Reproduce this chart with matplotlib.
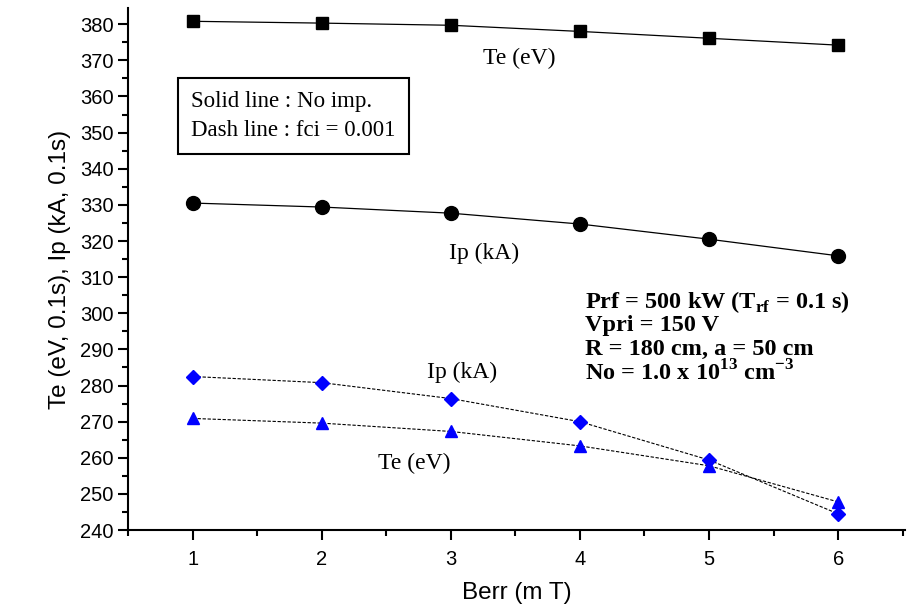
import matplotlib.pyplot as plt
from matplotlib.ticker import MultipleLocator

# Berr (mT)
berr = [1, 2, 3, 4, 5, 6]

# solid lines: no impurity
te_noimp = [380.8, 380.3, 379.7, 378.0, 376.1, 374.2]
ip_noimp = [330.5, 329.4, 327.7, 324.7, 320.5, 315.9]

# dashed lines: fci = 0.001
ip_fci = [282.5, 280.8, 276.4, 270.0, 259.4, 244.5]
te_fci = [270.9, 269.6, 267.3, 263.3, 257.8, 247.8]

sans = ['Liberation Sans', 'DejaVu Sans']
serif = ['Liberation Serif', 'DejaVu Serif']

fig = plt.figure(figsize=(9.08, 6.1), dpi=100)
ax = fig.add_axes([0.141, 0.131, 0.856, 0.856])

ax.plot(berr, te_noimp, color='black', lw=0.9, marker='s', ms=9, mfc='black', mec='black')
ax.plot(berr, ip_noimp, color='black', lw=0.9, marker='o', ms=10, mfc='black', mec='black')
ax.plot(berr, ip_fci, color='black', lw=0.8, ls=(0, (3, 1.5)), marker='D', ms=7.5,
        mfc='blue', mec='blue')
ax.plot(berr, te_fci, color='black', lw=0.8, ls=(0, (3, 1.5)), marker='^', ms=9,
        mfc='blue', mec='blue')

ax.set_xlim(0.5, 6.52)
ax.set_ylim(240, 384.5)
ax.xaxis.set_major_locator(MultipleLocator(1))
ax.xaxis.set_minor_locator(MultipleLocator(0.5))
ax.yaxis.set_major_locator(MultipleLocator(10))
ax.yaxis.set_minor_locator(MultipleLocator(5))
ax.tick_params(which='major', direction='out', length=7, width=1.5, labelsize=14.5)
ax.tick_params(which='minor', direction='out', length=4, width=1.5)
for lab in ax.get_xticklabels() + ax.get_yticklabels():
    lab.set_family(sans)
ax.tick_params(axis='x', pad=7)

for s in ['top', 'right']:
    ax.spines[s].set_visible(False)
for s in ['left', 'bottom']:
    ax.spines[s].set_linewidth(1.5)

ax.set_xlabel('Berr (m T)', family=sans, fontsize=17.5, labelpad=10)
ax.set_ylabel('Te (eV, 0.1s), Ip (kA, 0.1s)', family=sans, fontsize=17.5, labelpad=6)

ax.text(3.53, 370.6, 'Te (eV)', family=serif, fontsize=17, ha='center', va='center')
ax.text(3.26, 316.6, 'Ip (kA)', family=serif, fontsize=17, ha='center', va='center')
ax.text(3.09, 283.7, 'Ip (kA)', family=serif, fontsize=17, ha='center', va='center')
ax.text(2.72, 258.5, 'Te (eV)', family=serif, fontsize=17, ha='center', va='center')

ax.text(0.99, 354.6, 'Solid line : No imp.\nDash line : fci = 0.001', family=serif,
        fontsize=16.5, ha='left', va='center', linespacing=1.45,
        bbox=dict(boxstyle='square,pad=0.6', fc='white', ec='black', lw=1.5))

info = ['Prf = 500 kW (T$_{\\mathregular{rf}}$ = 0.1 s)',
        'Vpri = 150 V',
        'R = 180 cm, a = 50 cm',
        'No = 1.0 x 10$^{\\mathregular{13}}$ cm$^{\\mathregular{-3}}$']
info_y = [303.1, 296.7, 290.1, 283.4]
for t, yy in zip(info, info_y):
    ax.text(4.04, yy, t, family=serif, fontsize=17.5, fontweight='bold',
            ha='left', va='center')

fig.savefig('out.png', dpi=100)
